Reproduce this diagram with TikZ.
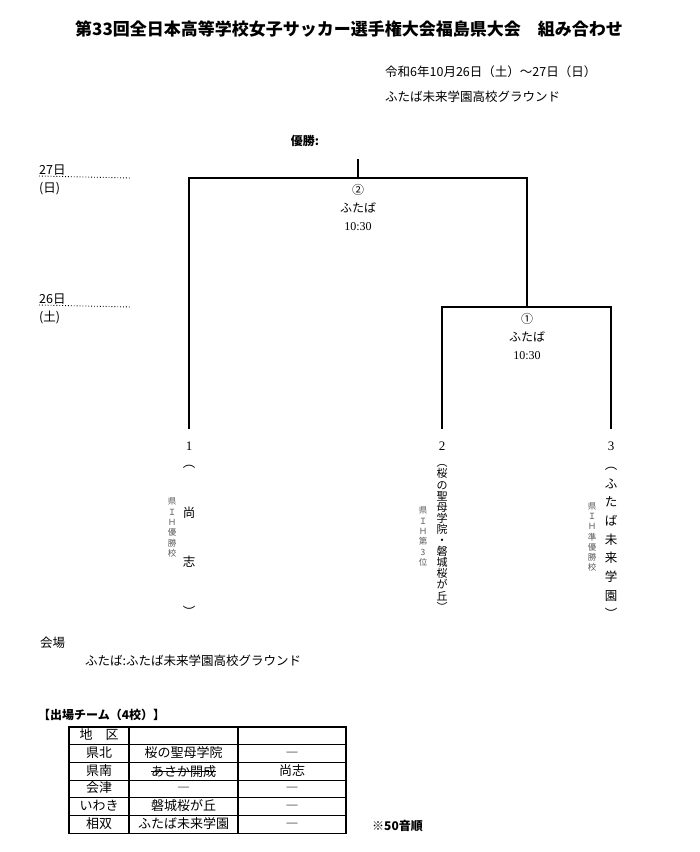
\documentclass[tikz,border=0pt]{standalone}
\usepackage{fontspec}
\setmainfont{Noto Sans CJK JP}
\newfontfamily\latinserif{Liberation Serif}
\usetikzlibrary{positioning}
\setlength{\lineskiplimit}{-20pt}

\begin{document}
\begin{tikzpicture}[x=1pt, y=-1pt,
  txt/.style={font=\fontsize{12.5}{14}\selectfont, inner sep=0pt},
  boldtxt/.style={font=\bfseries\fontsize{12}{14}\selectfont, inner sep=0pt},
  bracket/.style={line width=1.6pt},
  datedots/.style={dotted, line width=0.9pt},
  num/.style={font=\latinserif\fontsize{13}{14}\selectfont, inner sep=0pt, outer ysep=13pt},
  match/.style={font=\fontsize{12}{18}\selectfont, align=center, inner sep=0pt},
  vname/.style={align=center, inner sep=0pt},
  note/.style={font=\fontsize{8.5}{10.3}\selectfont, align=center, inner sep=0pt, text=black!65},
  cell/.style={draw, line width=1.1pt, minimum height=17.7pt, inner sep=0pt, outer sep=0pt,
    text height=9.5pt, text depth=2pt, font=\fontsize{13}{14}\selectfont},
  colA/.style={cell, minimum width=60pt},
  colB/.style={cell, minimum width=109pt},
  colC/.style={cell, minimum width=108pt},
  node distance=0pt]
\useasboundingbox (0,0) rectangle (700,852);
\node[font=\bfseries\fontsize{17}{18}\selectfont] (head) at (349,29) {第33回全日本高等学校女子サッカー選手権大会福島県大会　組み合わせ};
\node[txt, anchor=west] (when) at (385,72) {令和6年10月26日（土）～27日（日）};
\node[txt, anchor=west] (where) at (385,97) {ふたば未来学園高校グラウンド};
\node[boldtxt] (win) at (305,141) {優勝:};

\node[txt, anchor=south west] (d27) at (39,176) {27日};
\node[txt, below=6pt of d27.south west, anchor=north west] (w27) {(日)};
\coordinate (l27) at (130,178);
\draw[datedots] (d27.south west) -- (l27);
\node[txt, anchor=south west] (d26) at (39,305) {26日};
\node[txt, below=6pt of d26.south west, anchor=north west] (w26) {(土)};
\coordinate (l26) at (130,307);
\draw[datedots] (d26.south west) -- (l26);

\node[num] (t1) at (189,446) {1};
\node[num] (t2) at (442,446) {2};
\node[num] (t3) at (611,446) {3};
\coordinate (j1) at (527,307);
\coordinate (j2) at (358,178);
\coordinate (top) at (358,159);
\draw[bracket] (t2.north) |- (j1) -| (t3.north);
\draw[bracket] (t1.north) |- (j2) -| (j1);
\draw[bracket] (j2) -- (top);

\node[match] (m2) at (358,208) {②\\ふたば\\{\latinserif 10:30}};
\node[match] (m1) at (527,337) {①\\ふたば\\{\latinserif 10:30}};

\node[vname, font=\fontsize{12.5}{49.5}\selectfont] (n1) at (189,541) {︵\\尚\\志\\︶};
\node[vname, font=\fontsize{11}{11.1}\selectfont] (n2) at (442,538) {︵\\桜\\の\\聖\\母\\学\\院\\・\\磐\\城\\桜\\が\\丘\\︶};
\node[vname, font=\fontsize{12.5}{18.7}\selectfont] (n3) at (611,543) {︵\\ふ\\た\\ば\\未\\来\\学\\園\\︶};
\node[note] (h1) at (172,527.5) {県\\Ｉ\\Ｈ\\優\\勝\\校};
\node[note] (h2) at (423,536.5) {県\\Ｉ\\Ｈ\\第\\3\\位};
\node[note] (h3) at (592,537) {県\\Ｉ\\Ｈ\\準\\優\\勝\\校};

\node[txt, anchor=west] (kaijo) at (40,643) {会場};
\node[txt, anchor=west] (ground) at (85,661) {ふたば:ふたば未来学園高校グラウンド};

\node[boldtxt, anchor=west] (entry) at (38,715) {【出場チーム（4校）】};
\node[colA, anchor=north west] (a1) at (69,727) {地　区};
\node[colB, right=of a1] (b1) {};
\node[colC, right=of b1] (c1) {};
\node[colA, below=of a1] (a2) {県北};
\node[colB, right=of a2] (b2) {桜の聖母学院};
\node[colC, right=of b2] (c2) {―};
\node[colA, below=of a2] (a3) {県南};
\node[colB, right=of a3] (b3) {};
\node[colC, right=of b3] (c3) {尚志};
\node[colA, below=of a3] (a4) {会津};
\node[colB, right=of a4] (b4) {―};
\node[colC, right=of b4] (c4) {―};
\node[colA, below=of a4] (a5) {いわき};
\node[colB, right=of a5] (b5) {磐城桜が丘};
\node[colC, right=of b5] (c5) {―};
\node[colA, below=of a5] (a6) {相双};
\node[colB, right=of a6] (b6) {ふたば未来学園};
\node[colC, right=of b6] (c6) {―};
\node[inner sep=0pt, font=\fontsize{13}{14}\selectfont] (old) at (b3) {あさか開成};
\draw[line width=0.6pt] (old.west) -- (old.east);
\node[boldtxt, anchor=west] (order) at (372,826) {※50音順};
\end{tikzpicture}
\end{document}
